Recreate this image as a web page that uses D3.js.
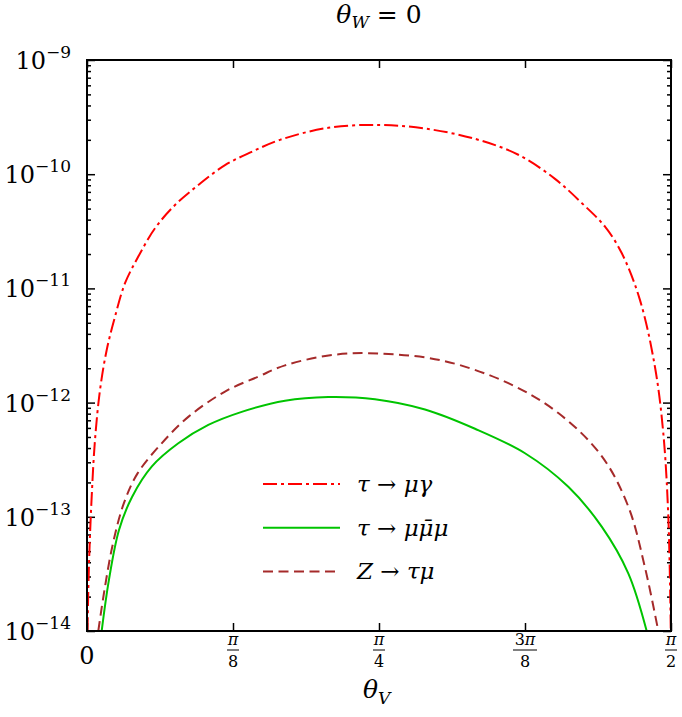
<!DOCTYPE html>
<html>
<head>
<meta charset="utf-8">
<script src="https://cdn.jsdelivr.net/npm/d3@7"></script>
<style>
  body { margin: 0; background: #fff; }
</style>
</head>
<body>
<script>
// chart size and plot frame
const SIZE = { width: 682, height: 717, left: 87, right: 671, top: 60, bottom: 631 };
const FONT = "'DejaVu Serif', serif";

// theta_V (radians) and branching ratio
const tauMuGammaTheta = [0.0013, 0.0054, 0.0126, 0.0215, 0.0350, 0.0530, 0.0753, 0.1022, 0.1380, 0.1829, 0.2367, 0.2994, 0.3712, 0.4430, 0.5191, 0.6490, 0.7854, 0.9091, 1.0436, 1.1601, 1.2588, 1.3306, 1.3933, 1.4382, 1.4874, 1.5278, 1.5501, 1.5636, 1.5702];
const tauMuGammaValue = [1.0e-14, 3.9e-14, 1.5e-13, 4.7e-13, 1.29e-12, 2.89e-12, 5.65e-12, 1.11e-11, 1.90e-11, 3.36e-11, 5.37e-11, 8.04e-11, 1.20e-10, 1.57e-10, 2.0e-10, 2.55e-10, 2.70e-10, 2.51e-10, 2.04e-10, 1.48e-10, 9.1e-11, 5.6e-11, 3.47e-11, 2.04e-11, 7.9e-12, 2.04e-12, 5.4e-13, 1.0e-13, 1.0e-14];

const tauThreeMuTheta = [0.0395, 0.0590, 0.0861, 0.1215, 0.1740, 0.2456, 0.3263, 0.4161, 0.5326, 0.6490, 0.7746, 0.9091, 1.0436, 1.1781, 1.2946, 1.3844, 1.4559, 1.5054];
const tauThreeMuValue = [1.0e-14, 2.8e-14, 7.66e-14, 1.5e-13, 2.75e-13, 4.4e-13, 6.37e-13, 8.3e-13, 1.04e-12, 1.12e-12, 1.07e-12, 8.7e-13, 5.9e-13, 3.6e-13, 1.83e-13, 8.2e-14, 3.2e-14, 1.0e-14];

const zTauMuTheta = [0.0304, 0.0470, 0.0699, 0.0990, 0.1360, 0.2009, 0.2725, 0.3712, 0.4608, 0.5326, 0.6671, 0.7854, 0.9541, 1.1332, 1.2677, 1.3844, 1.4559, 1.5008, 1.5366];
const zTauMuValue = [1.0e-14, 2.29e-14, 5.86e-14, 1.31e-13, 2.4e-13, 4.4e-13, 7.5e-13, 1.25e-12, 1.69e-12, 2.12e-12, 2.63e-12, 2.69e-12, 2.34e-12, 1.48e-12, 8.1e-13, 3.4e-13, 1.23e-13, 3.6e-14, 1.0e-14];

// axis ticks
const xTickValues = [0, Math.PI / 8, Math.PI / 4, 3 * Math.PI / 8, Math.PI / 2];
const xTickNum = ["0", "π", "π", "3π", "π"];
const xTickDen = [null, "8", "4", "8", "2"];
const yMajorTicks = [1e-14, 1e-13, 1e-12, 1e-11, 1e-10, 1e-9];

const series = [
  { theta: tauMuGammaTheta, value: tauMuGammaValue, color: "#ff0000", dash: "14,4,3,4" },
  { theta: tauThreeMuTheta, value: tauThreeMuValue, color: "#00c400", dash: null },
  { theta: zTauMuTheta, value: zTauMuValue, color: "#a52a2a", dash: "10,5.5" }
];

const svg = d3.select("body").append("svg")
  .attr("width", SIZE.width)
  .attr("height", SIZE.height)
  .attr("font-family", FONT)
  .style("font-family", FONT);

const x = d3.scaleLinear([0, Math.PI / 2], [SIZE.left, SIZE.right]);
const y = d3.scaleLog([1e-14, 1e-9], [SIZE.bottom, SIZE.top]);

svg.append("clipPath").attr("id", "plot-clip")
  .append("rect")
  .attr("x", SIZE.left).attr("y", SIZE.top)
  .attr("width", SIZE.right - SIZE.left).attr("height", SIZE.bottom - SIZE.top);

// minor log ticks
const yMinorTicks = [];
yMajorTicks.slice(0, -1).forEach(d => { for (let k = 2; k <= 9; k++) yMinorTicks.push(d * k); });

const tickStyle = g => g.call(g => g.select(".domain").remove())
  .call(g => g.selectAll(".tick line").attr("stroke", "#000").attr("stroke-width", 1.5));

svg.append("g").attr("transform", `translate(${SIZE.left},0)`)
  .call(d3.axisLeft(y).tickValues(yMajorTicks).tickSize(-8).tickFormat("")).call(tickStyle);
svg.append("g").attr("transform", `translate(${SIZE.left},0)`)
  .call(d3.axisLeft(y).tickValues(yMinorTicks).tickSize(-4).tickFormat("")).call(tickStyle);
svg.append("g").attr("transform", `translate(${SIZE.right},0)`)
  .call(d3.axisRight(y).tickValues(yMajorTicks).tickSize(-8).tickFormat("")).call(tickStyle);
svg.append("g").attr("transform", `translate(${SIZE.right},0)`)
  .call(d3.axisRight(y).tickValues(yMinorTicks).tickSize(-4).tickFormat("")).call(tickStyle);
svg.append("g").attr("transform", `translate(0,${SIZE.bottom})`)
  .call(d3.axisBottom(x).tickValues(xTickValues).tickSize(-8).tickFormat("")).call(tickStyle);
svg.append("g").attr("transform", `translate(0,${SIZE.top})`)
  .call(d3.axisTop(x).tickValues(xTickValues).tickSize(-8).tickFormat("")).call(tickStyle);

// curves
const line = d3.line()
  .x(d => x(d[0]))
  .y(d => y(d[1]))
  .curve(d3.curveCatmullRom.alpha(0.5));

svg.append("g").attr("clip-path", "url(#plot-clip)")
  .selectAll("path")
  .data(series)
  .join("path")
  .attr("d", s => line(s.theta.map((t, i) => [t, s.value[i]])))
  .attr("fill", "none")
  .attr("stroke", s => s.color)
  .attr("stroke-width", 2)
  .attr("stroke-dasharray", s => s.dash);

// frame
svg.append("rect")
  .attr("x", SIZE.left).attr("y", SIZE.top)
  .attr("width", SIZE.right - SIZE.left).attr("height", SIZE.bottom - SIZE.top)
  .attr("fill", "none").attr("stroke", "#000").attr("stroke-width", 2);

// y tick labels 10^n
const yLab = svg.append("g").selectAll("text")
  .data(yMajorTicks)
  .join("text")
  .attr("x", 71)
  .attr("y", d => y(d) + 9)
  .attr("text-anchor", "end")
  .attr("font-size", 24);
yLab.append("tspan").text("10");
yLab.append("tspan").attr("font-size", 17).attr("dy", -11)
  .text(d => "−" + Math.round(-Math.log10(d)));

// x tick labels (fractions of pi)
const xTicks = xTickValues.map((v, i) => ({ v, num: xTickNum[i], den: xTickDen[i] }));
const xLab = svg.append("g").selectAll("g")
  .data(xTicks)
  .join("g")
  .attr("transform", d => `translate(${x(d.v)},0)`);
xLab.filter(d => !d.den).append("text")
  .attr("y", 664).attr("text-anchor", "middle").attr("font-size", 24)
  .text(d => d.num);
const frac = xLab.filter(d => d.den);
const numText = frac.append("text")
  .attr("y", 645).attr("text-anchor", "middle").attr("font-size", 16);
numText.append("tspan").text(d => d.num.slice(0, -1));
numText.append("tspan").attr("font-style", "italic").text("π");
frac.append("line")
  .attr("x1", d => d.num.length > 1 ? -12 : -6)
  .attr("x2", d => d.num.length > 1 ? 12 : 6)
  .attr("y1", 650).attr("y2", 650)
  .attr("stroke", "#000").attr("stroke-width", 1);
frac.append("text")
  .attr("y", 667).attr("text-anchor", "middle").attr("font-size", 16)
  .text(d => d.den);

// axis title theta_V
const xTitle = svg.append("text")
  .attr("x", x(Math.PI / 4) - 16).attr("y", 698).attr("font-size", 25);
xTitle.append("tspan").attr("font-style", "italic").text("θ");
xTitle.append("tspan").attr("font-style", "italic").attr("font-size", 17).attr("dy", 6).text("V");

// chart title theta_W = 0
const title = svg.append("text")
  .attr("x", x(Math.PI / 4)).attr("y", 23).attr("font-size", 25)
  .attr("text-anchor", "middle");
title.append("tspan").attr("font-style", "italic").text("θ");
title.append("tspan").attr("font-style", "italic").attr("font-size", 17).attr("dy", 5).text("W");
title.append("tspan").attr("dy", -5).text(" = 0");

// legend
const legendRows = [
  [["τ", true], [" → ", false], ["μγ", true]],
  [["τ", true], [" → ", false], ["μμ\u0304μ", true]],
  [["Z", true], [" → ", false], ["τμ", true]]
];
const legend = svg.append("g").selectAll("g")
  .data(series)
  .join("g")
  .attr("transform", (d, i) => `translate(263,${484 + i * 43.7})`);
legend.append("line")
  .attr("x1", 0).attr("x2", 77)
  .attr("stroke", d => d.color)
  .attr("stroke-width", 2)
  .attr("stroke-dasharray", d => d.dash);
const legendText = legend.append("text")
  .attr("x", 94).attr("y", 8).attr("font-size", 23);
legendText.selectAll("tspan")
  .data((d, i) => legendRows[i])
  .join("tspan")
  .attr("font-style", d => d[1] ? "italic" : null)
  .text(d => d[0]);
</script>
</body>
</html>
